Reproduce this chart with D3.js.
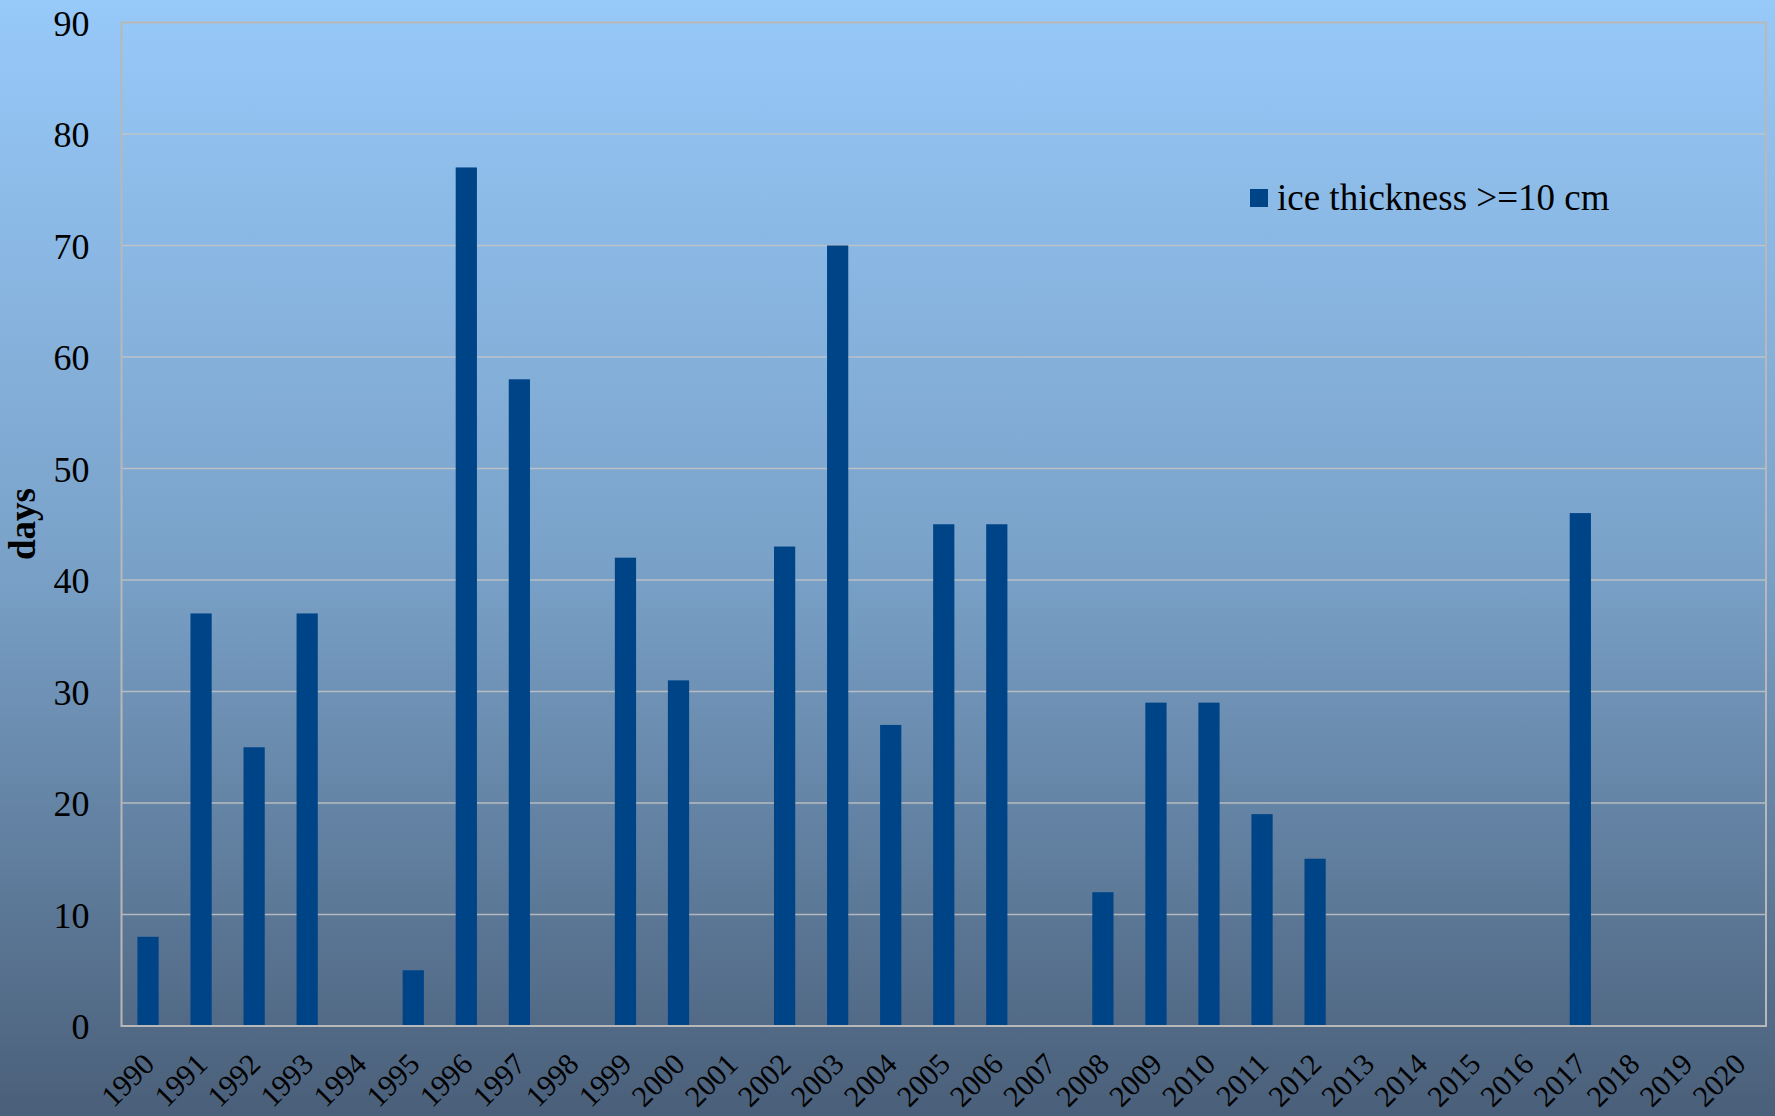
<!DOCTYPE html>
<html>
<head>
<meta charset="utf-8">
<script src="https://cdn.jsdelivr.net/npm/d3@7"></script>
<style>
html,body{margin:0;padding:0;}
svg{display:block;}
text{font-family:"Liberation Serif","Times New Roman",serif;fill:#000;}
</style>
</head>
<body>
<script>
const years = ["1990","1991","1992","1993","1994","1995","1996","1997","1998","1999","2000","2001","2002","2003","2004","2005","2006","2007","2008","2009","2010","2011","2012","2013","2014","2015","2016","2017","2018","2019","2020"];
const iceDays = [8,37,25,37,0,5,77,58,0,42,31,0,43,70,27,45,45,0,12,29,29,19,15,0,0,0,0,46,0,0,0];
const yTicks = [0,10,20,30,40,50,60,70,80,90];
const seriesName = "ice thickness >=10 cm";
const yLabel = "days";

const W = 1775, H = 1116;
const m = {left:121.5, right:W-1766, top:22.5, bottom:H-1026};

const svg = d3.select("body").append("svg").attr("width",W).attr("height",H);
const defs = svg.append("defs");
const grad = defs.append("linearGradient").attr("id","bg").attr("x1",0).attr("y1",0).attr("x2",0).attr("y2",1);
grad.append("stop").attr("offset","0%").attr("stop-color","#97c9f9");
grad.append("stop").attr("offset","50%").attr("stop-color","#7aa2c9");
grad.append("stop").attr("offset","100%").attr("stop-color","#4a5f79");
svg.append("rect").attr("width",W).attr("height",H).attr("fill","url(#bg)");

const x = d3.scaleBand().domain(years).range([m.left, W-m.right]).paddingInner(0.6).paddingOuter(0.3);
const y = d3.scaleLinear().domain([0,90]).range([H-m.bottom, m.top]);

// gridlines
svg.append("g").selectAll("line").data(yTicks.filter(d=>d>0 && d<90)).join("line")
  .attr("x1",m.left).attr("x2",W-m.right)
  .attr("y1",d=>y(d)).attr("y2",d=>y(d))
  .attr("stroke","#c4c4c4").attr("stroke-opacity",0.85).attr("stroke-width",1.5);

// bars
svg.append("g").selectAll("rect").data(years.map((yr,i)=>({yr, v:iceDays[i]})).filter(d=>d.v>0)).join("rect")
  .attr("x",d=>x(d.yr)).attr("width",x.bandwidth())
  .attr("y",d=>y(d.v)).attr("height",d=>y(0)-y(d.v))
  .attr("fill","#004488");

// frame
svg.append("rect").attr("x",m.left).attr("y",m.top)
  .attr("width",W-m.right-m.left).attr("height",H-m.bottom-m.top)
  .attr("fill","none").attr("stroke","#b8b8b8").attr("stroke-width",2);

// y axis
const yAxis = d3.axisLeft(y).tickValues(yTicks).tickSize(0).tickPadding(32);
const gy = svg.append("g").attr("transform",`translate(${m.left},0)`).call(yAxis);
gy.select(".domain").remove();
gy.selectAll("text").attr("font-size",36).attr("dy","0.35em").style("font-family","'Liberation Serif',serif");

// x axis
const xAxis = d3.axisBottom(x).tickSize(0).tickPadding(0);
const gx = svg.append("g").attr("transform",`translate(0,${H-m.bottom})`).call(xAxis);
gx.select(".domain").remove();
gx.selectAll("text")
  .attr("font-size",30).style("font-family","'Liberation Serif',serif")
  .attr("text-anchor","end").attr("dy",null).attr("y",0)
  .attr("transform","translate(8,40) rotate(-45)");

// y label
svg.append("text").attr("transform","translate(35,524) rotate(-90)")
  .attr("text-anchor","middle").attr("font-size",37).attr("font-weight","bold").text(yLabel);

// legend
const lg = svg.append("g");
lg.append("rect").attr("x",1250).attr("y",189).attr("width",18).attr("height",18).attr("fill","#004488");
lg.append("text").attr("x",1277).attr("y",210).attr("font-size",37).text(seriesName);
</script>
</body>
</html>
